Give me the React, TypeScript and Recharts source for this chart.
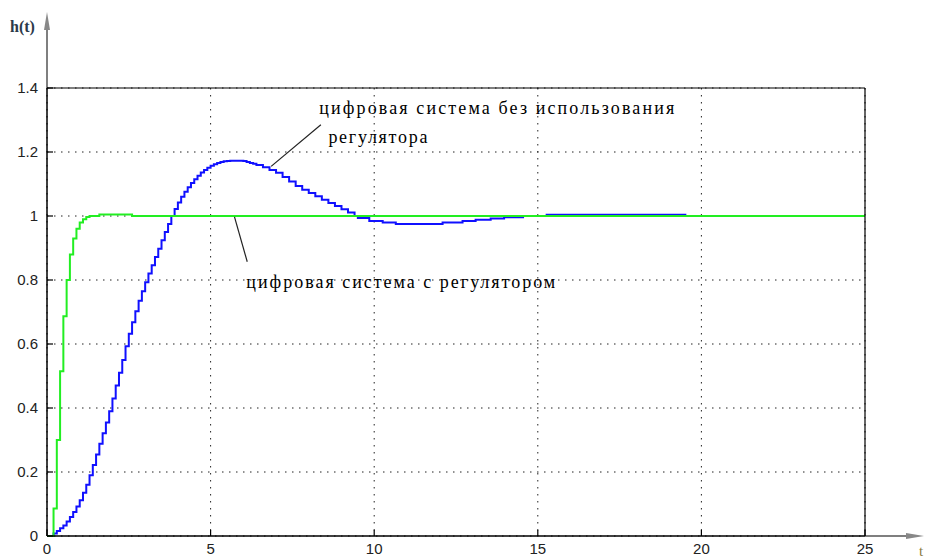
import React from "react";
import {
  LineChart,
  Line,
  XAxis,
  YAxis,
  CartesianGrid,
  ReferenceLine,
  ReferenceDot,
  usePlotArea,
} from "recharts";

// step response, sample time 0.1
const greenT = [0, 0.1, 0.2, 0.3, 0.4, 0.5, 0.6, 0.7, 0.8, 0.9, 1.0, 1.1, 1.2, 1.3, 1.6, 2.6, 25];
const greenV = [0, 0, 0.086, 0.3, 0.515, 0.687, 0.8, 0.88, 0.93, 0.96, 0.98, 0.99, 0.997, 1.0, 1.005, 1.0, 1.0];

const blueT1 = [
  0, 0.1, 0.2, 0.3, 0.4, 0.5, 0.6, 0.7, 0.8, 0.9, 1.0, 1.1, 1.2, 1.3, 1.4, 1.5, 1.6, 1.7, 1.8, 1.9,
  2.0, 2.1, 2.2, 2.3, 2.4, 2.5, 2.6, 2.7, 2.8, 2.9, 3.0, 3.1, 3.2, 3.3, 3.4, 3.5, 3.6, 3.7, 3.8, 3.9,
  4.0, 4.1, 4.2, 4.3, 4.4, 4.5, 4.6, 4.7, 4.8, 4.9, 5.0, 5.1, 5.2, 5.3, 5.4, 5.5, 5.6, 5.9, 6.0, 6.1,
  6.2, 6.3, 6.4, 6.6, 6.8, 7.0, 7.2, 7.4, 7.6, 7.8, 8.0, 8.2, 8.4, 8.6, 8.8, 9.0, 9.2, 9.4, 9.5, 9.85,
  10.26, 10.66, 12.09, 12.7, 13.1, 13.56, 13.97, 14.58,
];
const blueV1 = [
  0, 0, 0.008, 0.016, 0.024, 0.033, 0.045, 0.059, 0.075, 0.092, 0.112, 0.135, 0.16, 0.19, 0.222, 0.255, 0.288, 0.321, 0.355, 0.39,
  0.43, 0.47, 0.51, 0.55, 0.593, 0.632, 0.668, 0.702, 0.735, 0.765, 0.793, 0.82, 0.846, 0.872, 0.898, 0.924, 0.95, 0.975, 1.0, 1.022,
  1.042, 1.06, 1.076, 1.09, 1.103, 1.115, 1.126, 1.136, 1.144, 1.151, 1.157, 1.162, 1.166, 1.169, 1.171, 1.172, 1.173, 1.173, 1.172, 1.169,
  1.166, 1.163, 1.159, 1.152, 1.144, 1.135, 1.122, 1.108, 1.094, 1.082, 1.072, 1.062, 1.051, 1.041, 1.031, 1.021, 1.011, 1.0, 0.994, 0.984,
  0.98, 0.975, 0.98, 0.984, 0.988, 0.992, 0.996, 0.996,
];
const blueT2 = [15.24, 19.54];
const blueV2 = [1.004, 1.004];

const xTicks = [0, 5, 10, 15, 20, 25];
const yTicks = [0, 0.2, 0.4, 0.6, 0.8, 1, 1.2, 1.4];

const label1a = "цифровая система без использования";
const label1b = "регулятора";
const label2 = "цифровая система с регулятором";

const toRows = (ts: number[], vs: number[]) => ts.map((t, i) => ({ t, v: vs[i] }));

const sans = "'Liberation Sans', Arial, sans-serif";
const serif = "'Times New Roman', 'Liberation Serif', Tinos, serif";

function YTickLeft(props: any) {
  const { x, y, payload } = props;
  return (
    <g>
      <line x1={x} x2={x + 6} y1={y} y2={y} stroke="#000" strokeWidth={1.2} />
      <text x={x - 9} y={y} dy={5} textAnchor="end" fontSize={15} style={{ fontFamily: sans }} fill="#222">
        {String(payload.value)}
      </text>
    </g>
  );
}

function YTickRight(props: any) {
  const { x, y } = props;
  return <line x1={x - 6} x2={x} y1={y} y2={y} stroke="#000" strokeWidth={1.2} />;
}

function XTickBottom(props: any) {
  const { x, y, payload } = props;
  return (
    <g>
      <line x1={x} x2={x} y1={y} y2={y - 6} stroke="#000" strokeWidth={1.2} />
      <text x={x} y={y + 18} textAnchor="middle" fontSize={15} style={{ fontFamily: sans }} fill="#222">
        {String(payload.value)}
      </text>
    </g>
  );
}

function XTickTop(props: any) {
  const { x, y } = props;
  return <line x1={x} x2={x} y1={y} y2={y + 6} stroke="#000" strokeWidth={1.2} />;
}

// axis arrows sticking out of the box, like the MATLAB figure
function AxisArrows() {
  const area = usePlotArea();
  if (!area) return null;
  const x0 = area.x;
  const yTop = area.y;
  const yBot = area.y + area.height;
  const xRight = area.x + area.width;
  return (
    <g>
      <line x1={x0} x2={x0} y1={yTop} y2={20} stroke="#555" strokeWidth={1.5} />
      <polygon points={`${x0},12 ${x0 - 3},30 ${x0 + 3},30`} fill="#888" />
      <line x1={xRight} x2={914} y1={yBot} y2={yBot} stroke="#555" strokeWidth={1.5} />
      <polygon points={`924,${yBot} 906,${yBot - 3} 906,${yBot + 3}`} fill="#888" />
      <text x={10} y={32} fontSize={16} fontWeight="bold" fontFamily="Liberation Serif" fill="#2b3a4a">
        h(t)
      </text>
      <text x={919} y={556} fontSize={15} fontFamily="Liberation Serif" fill="#8a7a40">
        t
      </text>
    </g>
  );
}

const textLabel = (text: string, width: number) => (p: any) => (
  <text
    x={p.viewBox.x}
    y={p.viewBox.y}
    fontSize={18}
    fontFamily="Liberation Serif"
    style={{ fontFamily: serif }}
    fill="#000"
    textLength={width}
    lengthAdjust="spacing"
  >
    {text}
  </text>
);

export default function App() {
  return (
    <div style={{ position: "absolute", left: 0, top: 0, background: "#fff" }}>
      <LineChart width={926} height={558} margin={{ top: 0, right: 0, bottom: 0, left: 0 }}>
        <CartesianGrid
          horizontalValues={yTicks}
          verticalValues={xTicks}
          stroke="#222"
          strokeDasharray="1.5 5.5"
        />
        <XAxis
          dataKey="t"
          type="number"
          domain={[0, 25]}
          ticks={xTicks}
          height={22}
          tickSize={0}
          tickMargin={0}
          tickLine={false}
          tick={<XTickBottom />}
          axisLine={{ stroke: "#000", strokeWidth: 1.5 }}
        />
        <XAxis
          xAxisId="top"
          orientation="top"
          dataKey="t"
          type="number"
          domain={[0, 25]}
          ticks={xTicks}
          height={88}
          tickSize={0}
          tickMargin={0}
          tickLine={false}
          tick={<XTickTop />}
          axisLine={{ stroke: "#000", strokeWidth: 1.2 }}
        />
        <YAxis
          type="number"
          domain={[0, 1.4]}
          ticks={yTicks}
          width={47}
          tickSize={0}
          tickMargin={0}
          tickLine={false}
          tick={<YTickLeft />}
          axisLine={{ stroke: "#000", strokeWidth: 1.5 }}
        />
        <YAxis
          yAxisId="right"
          orientation="right"
          type="number"
          domain={[0, 1.4]}
          ticks={yTicks}
          width={61}
          tickSize={0}
          tickMargin={0}
          tickLine={false}
          tick={<YTickRight />}
          axisLine={{ stroke: "#000", strokeWidth: 1.2 }}
        />
        <Line
          data={toRows(blueT1, blueV1)}
          dataKey="v"
          type="stepAfter"
          stroke="#1010ff"
          strokeWidth={2}
          dot={false}
          isAnimationActive={false}
        />
        <Line
          data={toRows(blueT2, blueV2)}
          dataKey="v"
          type="stepAfter"
          stroke="#1010ff"
          strokeWidth={2}
          dot={false}
          isAnimationActive={false}
        />
        <Line
          data={toRows(greenT, greenV)}
          dataKey="v"
          type="stepAfter"
          stroke="#22ee22"
          strokeWidth={2}
          dot={false}
          isAnimationActive={false}
        />
        <ReferenceLine
          segment={[{ x: 6.85, y: 1.155 }, { x: 8.37, y: 1.285 }]}
          stroke="#222"
          strokeWidth={1.2}
        />
        <ReferenceLine
          segment={[{ x: 5.73, y: 0.997 }, { x: 6.12, y: 0.857 }]}
          stroke="#222"
          strokeWidth={1.2}
        />
        <ReferenceDot x={8.32} y={1.319} r={0} fill="none" stroke="none" label={{ content: textLabel(label1a, 355) }} />
        <ReferenceDot x={8.6} y={1.229} r={0} fill="none" stroke="none" label={{ content: textLabel(label1b, 99) }} />
        <ReferenceDot x={6.09} y={0.776} r={0} fill="none" stroke="none" label={{ content: textLabel(label2, 309) }} />
        <AxisArrows />
      </LineChart>
    </div>
  );
}
